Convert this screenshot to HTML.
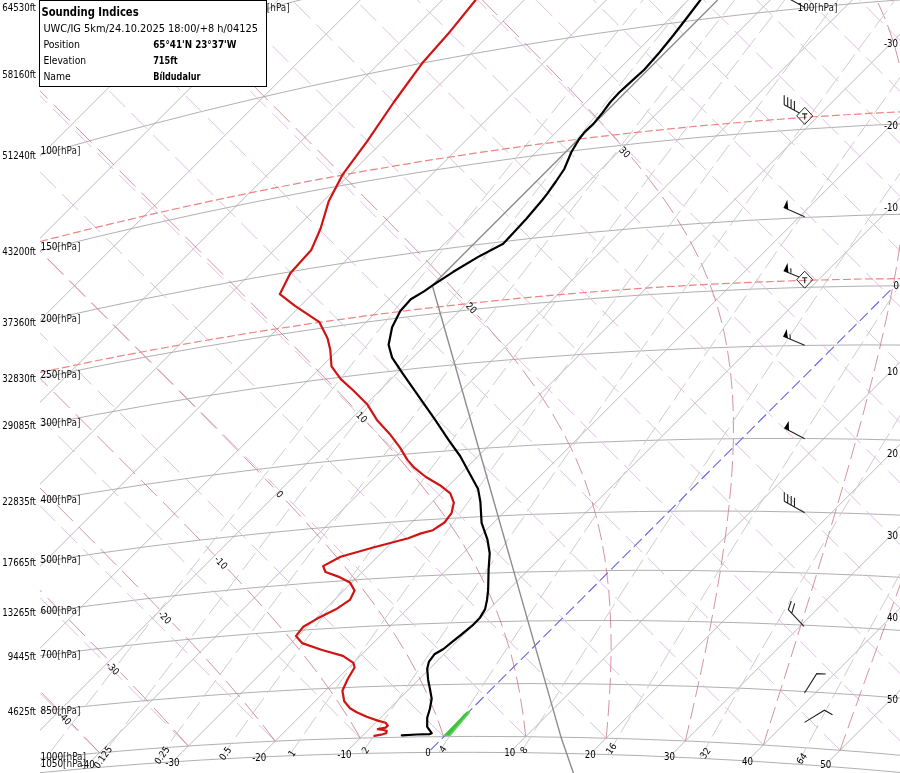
<!DOCTYPE html>
<html><head><meta charset="utf-8"><title>Sounding</title>
<style>html,body{margin:0;padding:0;background:#fff;}svg{display:block;}</style></head>
<body><svg width="900" height="773" viewBox="0 0 900 773"><defs><clipPath id="pa"><rect x="40" y="0" width="860" height="773"/></clipPath></defs>
<g clip-path="url(#pa)">
<path d="M38 -169.7L-126.7 -5M38 -87.7L-44.7 -5M38 -5.7L37.3 -5M38 76.3L119.3 -5M38 158.3L201.3 -5M38 240.3L283.3 -5M38 322.3L365.3 -5M38 404.3L447.3 -5M38 486.3L529.3 -5M38 568.3L611.3 -5M38 650.3L693.3 -5M38 732.3L775.3 -5M83.6 768.7L857.3 -5M172.4 761.9L905 29.3M259.3 757.0L905 111.3M344.4 753.9L905 193.3M509.8 752.5L905 357.3M590.3 754.0L905 439.3M669.5 756.8L905 521.3M747.4 760.9L905 603.3M824.2 766.1L905 685.3M899.9 772.4L905 767.3" stroke="#b4b4b4" stroke-width="0.9" fill="none"/>
<path d="M40 1.4L94.7 -17.3L149.5 -35.2L204.3 -52.3L258.1 -68.4L313.1 -84.0L368.1 -98.8L423.2 -112.9L477.3 -126.0L531.4 -138.3L586.7 -150.2L642.1 -161.2L697.5 -171.5L752.9 -181.1L808.4 -189.8L864.0 -197.9L919.7 -205.1M40 74.3L93.7 57.5L148.7 41.1L203.7 25.4L257.6 10.9L312.7 -3.2L366.8 -16.3L421.0 -28.7L476.3 -40.5L530.6 -51.4L586.0 -61.7L640.5 -71.1L696.1 -80.0L751.8 -88.1L807.5 -95.4L863.2 -102.0L919.1 -107.8M40 154.9L94.5 139.5L148.3 125.1L203.3 111.1L257.2 98.2L311.3 85.9L366.5 74.2L420.7 63.4L476.0 53.2L530.5 43.9L585.9 35.1L640.5 27.3L696.2 20.0L751.9 13.5L807.7 7.7L863.5 2.7L919.5 -1.6M40 250.9L94.2 237.4L148.8 224.6L202.5 212.8L257.2 201.5L311.1 191.1L366.1 181.2L420.1 172.2L475.2 163.9L529.5 156.3L584.8 149.4L640.2 143.2L695.7 137.7L751.3 133.0L807.0 129.0L862.8 125.6L919.5 123.0M40 321.7L94.3 309.5L148.3 298.1L202.4 287.5L256.6 277.5L310.9 268.3L365.3 259.8L419.9 252.0L474.5 245.0L529.2 238.6L585.0 232.9L639.9 228.0L695.8 223.7L751.0 220.2L807.1 217.4L863.4 215.2L919.7 213.8M40 378.1L94.2 367.0L148.0 356.6L201.9 347.0L255.9 338.1L310.1 329.8L364.3 322.3L418.7 315.5L474.1 309.3L528.7 303.9L584.3 299.2L639.1 295.2L694.9 291.9L750.8 289.2L806.9 287.3L863.0 286.1L919.3 285.6M40 425.2L93.7 415.0L147.6 405.4L201.5 396.6L255.6 388.4L309.8 381.0L364.1 374.3L418.5 368.2L473.9 362.8L528.6 358.2L584.2 354.2L639.1 351.0L695.0 348.4L751.0 346.5L807.1 345.4L863.3 344.9L919.6 345.1M40 501.4L93.3 492.5L147.6 484.1L201.1 476.5L255.6 469.6L309.3 463.4L364.1 457.9L419.0 453.0L474.0 448.9L529.1 445.4L584.3 442.7L639.7 440.6L695.2 439.2L750.8 438.5L806.5 438.5L862.4 439.2L919.3 440.6M40 562.0L93.3 554.0L147.4 546.6L201.7 539.9L256.0 534.0L309.6 528.8L364.2 524.2L419.0 520.2L473.8 517.0L528.9 514.5L584.0 512.7L639.3 511.5L694.7 511.0L750.2 511.2L806.8 512.1L862.6 513.7L919.4 515.9M40 612.4L93.8 605.2L147.0 598.7L200.4 592.9L254.8 587.6L308.5 583.2L363.2 579.3L418.0 576.1L473.0 573.7L528.1 571.9L583.3 570.8L638.7 570.3L694.2 570.6L749.9 571.5L806.5 573.1L862.4 575.3L919.3 578.3M40 655.8L94.1 649.1L147.5 643.3L201.1 638.1L254.8 633.6L308.7 629.7L363.6 626.5L417.7 624.0L472.9 622.1L527.4 621.0L582.8 620.5L638.4 620.6L694.1 621.5L750.0 623.0L806.0 625.2L862.2 628.0L919.3 631.6M40 711.2L93.5 705.5L147.0 700.4L200.6 696.0L255.2 692.2L309.1 689.2L363.1 686.8L417.3 685.1L472.5 684.0L527.1 683.6L582.6 683.8L638.2 684.8L694.0 686.4L750.0 688.6L806.1 691.6L862.3 695.2L919.5 699.5M40 758.4L93.2 753.4L146.8 748.9L200.6 745.2L254.5 742.1L308.6 739.7L362.8 738.0L417.2 736.9L472.6 736.4L527.3 736.7L583.0 737.6L638.0 739.1L694.0 741.3L750.1 744.2L806.4 747.8L862.9 752.0L919.5 756.9M40 772.7L93.5 767.8L146.9 763.6L200.4 760.1L255.0 757.2L308.9 755.0L362.9 753.4L417.1 752.5L472.3 752.3L526.8 752.7L582.3 753.8L638.0 755.5L693.8 758.0L749.7 761.0L805.9 764.8L862.2 769.1L919.4 774.2" stroke="#b0b0b0" stroke-width="1" fill="none"/>
<path d="M8.6 761.7L-7.4 745.7M99.5 752.8L83.5 736.8M77.5 730.8L61.5 714.8M55.5 708.8L39.5 692.8M33.5 686.8L17.5 670.8M11.5 664.8L-4.5 648.8M188.3 746.0L172.3 730.0M166.3 724.0L150.3 708.0M144.3 702.0L128.3 686.0M122.3 680.0L106.3 664.0M100.3 658.0L84.3 642.0M78.3 636.0L62.3 620.0M56.3 614.0L40.3 598.0M34.3 592.0L18.3 576.0M12.3 570.0L-3.7 554.0M275.2 741.1L259.2 725.1M253.2 719.1L237.2 703.1M231.2 697.1L215.2 681.1M209.2 675.1L193.2 659.1M187.2 653.1L171.2 637.1M165.2 631.1L149.2 615.1M143.2 609.1L127.2 593.1M121.2 587.1L105.2 571.1M99.2 565.1L83.2 549.1M77.2 543.1L61.2 527.1M55.2 521.1L39.2 505.1M33.2 499.1L17.2 483.1M11.2 477.1L-4.8 461.1M360.3 738.0L344.3 722.0M338.3 716.0L322.3 700.0M316.3 694.0L300.3 678.0M294.3 672.0L278.3 656.0M272.3 650.0L256.3 634.0M250.3 628.0L234.3 612.0M228.3 606.0L212.3 590.0M206.3 584.0L190.3 568.0M184.3 562.0L168.3 546.0M162.3 540.0L146.3 524.0M140.3 518.0L124.3 502.0M118.3 496.0L102.3 480.0M96.3 474.0L80.3 458.0M74.3 452.0L58.3 436.0M52.3 430.0L36.3 414.0M30.3 408.0L14.3 392.0M8.3 386.0L-7.7 370.0M443.7 736.6L427.7 720.6M421.7 714.6L405.7 698.6M399.7 692.6L383.7 676.6M377.7 670.6L361.7 654.6M355.7 648.6L339.7 632.6M333.7 626.6L317.7 610.6M311.7 604.6L295.7 588.6M289.7 582.6L273.7 566.6M267.7 560.6L251.7 544.6M245.7 538.6L229.7 522.6M223.7 516.6L207.7 500.6M201.7 494.6L185.7 478.6M179.7 472.6L163.7 456.6M157.7 450.6L141.7 434.6M135.7 428.6L119.7 412.6M113.7 406.6L97.7 390.6M91.7 384.6L75.7 368.6M69.7 362.6L53.7 346.6M47.7 340.6L31.7 324.6M25.7 318.6L9.7 302.6M3.7 296.6L-12.3 280.6M525.7 736.6L509.7 720.6M503.7 714.6L487.7 698.6M481.7 692.6L465.7 676.6M459.7 670.6L443.7 654.6M437.7 648.6L421.7 632.6M415.7 626.6L399.7 610.6M393.7 604.6L377.7 588.6M371.7 582.6L355.7 566.6M349.7 560.6L333.7 544.6M327.7 538.6L311.7 522.6M305.7 516.6L289.7 500.6M283.7 494.6L267.7 478.6M261.7 472.6L245.7 456.6M239.7 450.6L223.7 434.6M217.7 428.6L201.7 412.6M195.7 406.6L179.7 390.6M173.7 384.6L157.7 368.6M151.7 362.6L135.7 346.6M129.7 340.6L113.7 324.6M107.7 318.6L91.7 302.6M85.7 296.6L69.7 280.6M63.7 274.6L47.7 258.6M41.7 252.6L25.7 236.6M19.7 230.6L3.7 214.6M-2.3 208.6L-18.3 192.6M606.2 738.1L590.2 722.1M584.2 716.1L568.2 700.1M562.2 694.1L546.2 678.1M540.2 672.1L524.2 656.1M518.2 650.1L502.2 634.1M496.2 628.1L480.2 612.1M474.2 606.1L458.2 590.1M452.2 584.1L436.2 568.1M430.2 562.1L414.2 546.1M408.2 540.1L392.2 524.1M386.2 518.1L370.2 502.1M364.2 496.1L348.2 480.1M342.2 474.1L326.2 458.1M320.2 452.1L304.2 436.1M298.2 430.1L282.2 414.1M276.2 408.1L260.2 392.1M254.2 386.1L238.2 370.1M232.2 364.1L216.2 348.1M210.2 342.1L194.2 326.1M188.2 320.1L172.2 304.1M166.2 298.1L150.2 282.1M144.2 276.1L128.2 260.1M122.2 254.1L106.2 238.1M100.2 232.1L84.2 216.1M78.2 210.1L62.2 194.1M56.2 188.1L40.2 172.1M34.2 166.1L18.2 150.1M12.2 144.1L-3.8 128.1M685.3 741.0L669.3 725.0M663.3 719.0L647.3 703.0M641.3 697.0L625.3 681.0M619.3 675.0L603.3 659.0M597.3 653.0L581.3 637.0M575.3 631.0L559.3 615.0M553.3 609.0L537.3 593.0M531.3 587.0L515.3 571.0M509.3 565.0L493.3 549.0M487.3 543.0L471.3 527.0M465.3 521.0L449.3 505.0M443.3 499.0L427.3 483.0M421.3 477.0L405.3 461.0M399.3 455.0L383.3 439.0M377.3 433.0L361.3 417.0M355.3 411.0L339.3 395.0M333.3 389.0L317.3 373.0M311.3 367.0L295.3 351.0M289.3 345.0L273.3 329.0M267.3 323.0L251.3 307.0M245.3 301.0L229.3 285.0M223.3 279.0L207.3 263.0M201.3 257.0L185.3 241.0M179.3 235.0L163.3 219.0M157.3 213.0L141.3 197.0M135.3 191.0L119.3 175.0M113.3 169.0L97.3 153.0M91.3 147.0L75.3 131.0M69.3 125.0L53.3 109.0M47.3 103.0L31.3 87.0M25.3 81.0L9.3 65.0M3.3 59.0L-12.7 43.0M763.3 745.0L747.3 729.0M741.3 723.0L725.3 707.0M719.3 701.0L703.3 685.0M697.3 679.0L681.3 663.0M675.3 657.0L659.3 641.0M653.3 635.0L637.3 619.0M631.3 613.0L615.3 597.0M609.3 591.0L593.3 575.0M587.3 569.0L571.3 553.0M565.3 547.0L549.3 531.0M543.3 525.0L527.3 509.0M521.3 503.0L505.3 487.0M499.3 481.0L483.3 465.0M477.3 459.0L461.3 443.0M455.3 437.0L439.3 421.0M433.3 415.0L417.3 399.0M411.3 393.0L395.3 377.0M389.3 371.0L373.3 355.0M367.3 349.0L351.3 333.0M345.3 327.0L329.3 311.0M323.3 305.0L307.3 289.0M301.3 283.0L285.3 267.0M279.3 261.0L263.3 245.0M257.3 239.0L241.3 223.0M235.3 217.0L219.3 201.0M213.3 195.0L197.3 179.0M191.3 173.0L175.3 157.0M169.3 151.0L153.3 135.0M147.3 129.0L131.3 113.0M125.3 107.0L109.3 91.0M103.3 85.0L87.3 69.0M81.3 63.0L65.3 47.0M59.3 41.0L43.3 25.0M37.3 19.0L21.3 3.0M15.3 -3.0L-0.7 -19.0M840.1 750.2L824.1 734.2M818.1 728.2L802.1 712.2M796.1 706.2L780.1 690.2M774.1 684.2L758.1 668.2M752.1 662.2L736.1 646.2M730.1 640.2L714.1 624.2M708.1 618.2L692.1 602.2M686.1 596.2L670.1 580.2M664.1 574.2L648.1 558.2M642.1 552.2L626.1 536.2M620.1 530.2L604.1 514.2M598.1 508.2L582.1 492.2M576.1 486.2L560.1 470.2M554.1 464.2L538.1 448.2M532.1 442.2L516.1 426.2M510.1 420.2L494.1 404.2M488.1 398.2L472.1 382.2M466.1 376.2L450.1 360.2M444.1 354.2L428.1 338.2M422.1 332.2L406.1 316.2M400.1 310.2L384.1 294.2M378.1 288.2L362.1 272.2M356.1 266.2L340.1 250.2M334.1 244.2L318.1 228.2M312.1 222.2L296.1 206.2M290.1 200.2L274.1 184.2M268.1 178.2L252.1 162.2M246.1 156.2L230.1 140.2M224.1 134.2L208.1 118.2M202.1 112.2L186.1 96.2M180.1 90.2L164.1 74.2M158.1 68.2L142.1 52.2M136.1 46.2L120.1 30.2M114.1 24.2L98.1 8.2M92.1 2.2L76.1 -13.8M904.4 745.2L888.4 729.2M882.4 723.2L866.4 707.2M860.4 701.2L844.4 685.2M838.4 679.2L822.4 663.2M816.4 657.2L800.4 641.2M794.4 635.2L778.4 619.2M772.4 613.2L756.4 597.2M750.4 591.2L734.4 575.2M728.4 569.2L712.4 553.2M706.4 547.2L690.4 531.2M684.4 525.2L668.4 509.2M662.4 503.2L646.4 487.2M640.4 481.2L624.4 465.2M618.4 459.2L602.4 443.2M596.4 437.2L580.4 421.2M574.4 415.2L558.4 399.2M552.4 393.2L536.4 377.2M530.4 371.2L514.4 355.2M508.4 349.2L492.4 333.2M486.4 327.2L470.4 311.2M464.4 305.2L448.4 289.2M442.4 283.2L426.4 267.2M420.4 261.2L404.4 245.2M398.4 239.2L382.4 223.2M376.4 217.2L360.4 201.2M354.4 195.2L338.4 179.2M332.4 173.2L316.4 157.2M310.4 151.2L294.4 135.2M288.4 129.2L272.4 113.2M266.4 107.2L250.4 91.2M244.4 85.2L228.4 69.2M222.4 63.2L206.4 47.2M200.4 41.2L184.4 25.2M178.4 19.2L162.4 3.2M156.4 -2.8L140.4 -18.8M904.4 677.9L888.4 661.9M882.4 655.9L866.4 639.9M860.4 633.9L844.4 617.9M838.4 611.9L822.4 595.9M816.4 589.9L800.4 573.9M794.4 567.9L778.4 551.9M772.4 545.9L756.4 529.9M750.4 523.9L734.4 507.9M728.4 501.9L712.4 485.9M706.4 479.9L690.4 463.9M684.4 457.9L668.4 441.9M662.4 435.9L646.4 419.9M640.4 413.9L624.4 397.9M618.4 391.9L602.4 375.9M596.4 369.9L580.4 353.9M574.4 347.9L558.4 331.9M552.4 325.9L536.4 309.9M530.4 303.9L514.4 287.9M508.4 281.9L492.4 265.9M486.4 259.9L470.4 243.9M464.4 237.9L448.4 221.9M442.4 215.9L426.4 199.9M420.4 193.9L404.4 177.9M398.4 171.9L382.4 155.9M376.4 149.9L360.4 133.9M354.4 127.9L338.4 111.9M332.4 105.9L316.4 89.9M310.4 83.9L294.4 67.9M288.4 61.9L272.4 45.9M266.4 39.9L250.4 23.9M244.4 17.9L228.4 1.9M222.4 -4.1L206.4 -20.1M904.4 612.5L888.4 596.5M882.4 590.5L866.4 574.5M860.4 568.5L844.4 552.5M838.4 546.5L822.4 530.5M816.4 524.5L800.4 508.5M794.4 502.5L778.4 486.5M772.4 480.5L756.4 464.5M750.4 458.5L734.4 442.5M728.4 436.5L712.4 420.5M706.4 414.5L690.4 398.5M684.4 392.5L668.4 376.5M662.4 370.5L646.4 354.5M640.4 348.5L624.4 332.5M618.4 326.5L602.4 310.5M596.4 304.5L580.4 288.5M574.4 282.5L558.4 266.5M552.4 260.5L536.4 244.5M530.4 238.5L514.4 222.5M508.4 216.5L492.4 200.5M486.4 194.5L470.4 178.5M464.4 172.5L448.4 156.5M442.4 150.5L426.4 134.5M420.4 128.5L404.4 112.5M398.4 106.5L382.4 90.5M376.4 84.5L360.4 68.5M354.4 62.5L338.4 46.5M332.4 40.5L316.4 24.5M310.4 18.5L294.4 2.5M288.4 -3.5L272.4 -19.5M904.4 548.9L888.4 532.9M882.4 526.9L866.4 510.9M860.4 504.9L844.4 488.9M838.4 482.9L822.4 466.9M816.4 460.9L800.4 444.9M794.4 438.9L778.4 422.9M772.4 416.9L756.4 400.9M750.4 394.9L734.4 378.9M728.4 372.9L712.4 356.9M706.4 350.9L690.4 334.9M684.4 328.9L668.4 312.9M662.4 306.9L646.4 290.9M640.4 284.9L624.4 268.9M618.4 262.9L602.4 246.9M596.4 240.9L580.4 224.9M574.4 218.9L558.4 202.9M552.4 196.9L536.4 180.9M530.4 174.9L514.4 158.9M508.4 152.9L492.4 136.9M486.4 130.9L470.4 114.9M464.4 108.9L448.4 92.9M442.4 86.9L426.4 70.9M420.4 64.9L404.4 48.9M398.4 42.9L382.4 26.9M376.4 20.9L360.4 4.9M354.4 -1.1L338.4 -17.1M904.4 487.1L888.4 471.1M882.4 465.1L866.4 449.1M860.4 443.1L844.4 427.1M838.4 421.1L822.4 405.1M816.4 399.1L800.4 383.1M794.4 377.1L778.4 361.1M772.4 355.1L756.4 339.1M750.4 333.1L734.4 317.1M728.4 311.1L712.4 295.1M706.4 289.1L690.4 273.1M684.4 267.1L668.4 251.1M662.4 245.1L646.4 229.1M640.4 223.1L624.4 207.1M618.4 201.1L602.4 185.1M596.4 179.1L580.4 163.1M574.4 157.1L558.4 141.1M552.4 135.1L536.4 119.1M530.4 113.1L514.4 97.1M508.4 91.1L492.4 75.1M486.4 69.1L470.4 53.1M464.4 47.1L448.4 31.1M442.4 25.1L426.4 9.1M420.4 3.1L404.4 -12.9M904.4 426.9L888.4 410.9M882.4 404.9L866.4 388.9M860.4 382.9L844.4 366.9M838.4 360.9L822.4 344.9M816.4 338.9L800.4 322.9M794.4 316.9L778.4 300.9M772.4 294.9L756.4 278.9M750.4 272.9L734.4 256.9M728.4 250.9L712.4 234.9M706.4 228.9L690.4 212.9M684.4 206.9L668.4 190.9M662.4 184.9L646.4 168.9M640.4 162.9L624.4 146.9M618.4 140.9L602.4 124.9M596.4 118.9L580.4 102.9M574.4 96.9L558.4 80.9M552.4 74.9L536.4 58.9M530.4 52.9L514.4 36.9M508.4 30.9L492.4 14.9M486.4 8.9L470.4 -7.1M904.4 368.2L888.4 352.2M882.4 346.2L866.4 330.2M860.4 324.2L844.4 308.2M838.4 302.2L822.4 286.2M816.4 280.2L800.4 264.2M794.4 258.2L778.4 242.2M772.4 236.2L756.4 220.2M750.4 214.2L734.4 198.2M728.4 192.2L712.4 176.2M706.4 170.2L690.4 154.2M684.4 148.2L668.4 132.2M662.4 126.2L646.4 110.2M640.4 104.2L624.4 88.2M618.4 82.2L602.4 66.2M596.4 60.2L580.4 44.2M574.4 38.2L558.4 22.2M552.4 16.2L536.4 0.2M904.4 311.0L888.4 295.0M882.4 289.0L866.4 273.0M860.4 267.0L844.4 251.0M838.4 245.0L822.4 229.0M816.4 223.0L800.4 207.0M794.4 201.0L778.4 185.0M772.4 179.0L756.4 163.0M750.4 157.0L734.4 141.0M728.4 135.0L712.4 119.0M706.4 113.0L690.4 97.0M684.4 91.0L668.4 75.0M662.4 69.0L646.4 53.0M640.4 47.0L624.4 31.0M618.4 25.0L602.4 9.0M596.4 3.0L580.4 -13.0M904.4 255.3L888.4 239.3M882.4 233.3L866.4 217.3M860.4 211.3L844.4 195.3M838.4 189.3L822.4 173.3M816.4 167.3L800.4 151.3M794.4 145.3L778.4 129.3M772.4 123.3L756.4 107.3M750.4 101.3L734.4 85.3M728.4 79.3L712.4 63.3M706.4 57.3L690.4 41.3M684.4 35.3L668.4 19.3M662.4 13.3L646.4 -2.7M904.4 200.8L888.4 184.8M882.4 178.8L866.4 162.8M860.4 156.8L844.4 140.8M838.4 134.8L822.4 118.8M816.4 112.8L800.4 96.8M794.4 90.8L778.4 74.8M772.4 68.8L756.4 52.8M750.4 46.8L734.4 30.8M728.4 24.8L712.4 8.8M706.4 2.8L690.4 -13.2M904.4 147.7L888.4 131.7M882.4 125.7L866.4 109.7M860.4 103.7L844.4 87.7M838.4 81.7L822.4 65.7M816.4 59.7L800.4 43.7M794.4 37.7L778.4 21.7M772.4 15.7L756.4 -0.3M904.4 95.7L888.4 79.7M882.4 73.7L866.4 57.7M860.4 51.7L844.4 35.7M838.4 29.7L822.4 13.7M816.4 7.7L800.4 -8.3M904.4 44.9L888.4 28.9M882.4 22.9L866.4 6.9M860.4 0.9L844.4 -15.1M904.4 -4.8L888.4 -20.8" stroke="#e0c0e4" stroke-width="1" fill="none"/>
<path d="M99.5 752.8L84.3 736.8M78.6 730.8L71.8 723.7M57.3 708.8L41.7 692.8M35.8 686.8L20.0 670.8M14.1 664.8L-1.7 648.8M188.3 746.0L174.1 730.0M168.7 724.0L154.0 708.0M148.5 702.0L133.4 686.0M127.7 680.0L120.4 672.4M106.5 658.0L90.9 642.0M85.0 636.0L69.3 620.0M63.4 614.0L47.6 598.0M41.7 592.0L25.8 576.0M19.8 570.0L3.9 554.0M-2.1 548.0L-18.0 532.0M275.2 741.1L262.9 725.1M258.1 719.1L245.0 703.1M239.9 697.1L226.1 681.1M220.8 675.1L206.4 659.1M200.9 653.1L186.0 637.1M180.3 631.1L172.3 622.7M159.3 609.1L143.8 593.1M137.9 587.1L122.3 571.1M116.4 565.1L100.6 549.1M94.7 543.1L78.8 527.1M72.9 521.1L57.0 505.1M51.0 499.1L35.1 483.1M29.1 477.1L13.1 461.1M7.2 455.1L-8.8 439.1M360.3 738.0L350.9 722.0M347.2 716.0L336.8 700.0M332.7 694.0L321.2 678.0M316.8 672.0L304.4 656.0M299.6 650.0L286.3 634.0M281.2 628.0L267.2 612.0M261.9 606.0L247.3 590.0M241.8 584.0L227.6 568.9M214.7 555.3L205.8 546.0M200.0 540.0L184.4 524.0M178.6 518.0L162.9 502.0M156.9 496.0L141.1 480.0M135.2 474.0L119.3 458.0M113.3 452.0L97.4 436.0M91.5 430.0L75.5 414.0M69.6 408.0L53.6 392.0M47.6 386.0L31.7 370.0M25.7 364.0L9.8 348.0M3.8 342.0L-12.2 326.0M443.7 736.6L438.1 720.6M435.8 714.6L429.2 698.6M426.5 692.6L418.9 676.6M415.8 670.6L407.0 654.6M403.5 648.6L393.6 632.6M389.7 626.6L378.7 610.6M374.4 604.6L362.4 588.6M357.7 582.6L344.7 566.6M339.7 560.6L326.0 544.6M320.7 538.6L306.3 522.6M300.8 516.6L286.0 500.6M273.7 487.6L265.0 478.6M259.3 472.6L243.8 456.6M237.9 450.6L222.2 434.6M216.3 428.6L200.5 412.6M194.6 406.6L178.7 390.6M172.8 384.6L156.8 368.6M150.9 362.6L134.9 346.6M129.0 340.6L113.0 324.6M107.1 318.6L91.1 302.6M85.1 296.6L69.2 280.6M63.2 274.6L47.3 258.6M41.3 252.6L25.3 236.6M19.4 230.6L3.4 214.6M-2.6 208.6L-18.5 192.6M525.7 736.6L523.9 720.6M523.1 714.6L520.6 698.6M519.6 692.6L516.4 676.6M515.1 670.6L511.1 654.6M509.4 648.6L504.5 632.6M502.4 626.6L496.5 610.6M494.1 604.6L487.0 588.6M484.2 582.6L476.0 566.6M472.7 560.6L463.4 544.6M459.7 538.6L449.1 522.6M445.0 516.6L433.3 500.6M428.8 494.6L416.1 478.6M411.2 472.6L397.7 456.6M392.5 450.6L378.2 434.6M372.8 428.6L367.9 423.3M352.4 406.6L337.2 390.6M331.4 384.6L315.9 368.6M310.1 362.6L294.4 346.6M288.5 340.6L272.7 324.6M266.8 318.6L250.9 302.6M245.0 296.6L229.1 280.6M223.1 274.6L207.2 258.6M201.2 252.6L185.3 236.6M179.3 230.6L163.3 214.6M157.3 208.6L141.4 192.6M135.4 186.6L119.5 170.6M113.5 164.6L97.6 148.6M91.6 142.6L75.6 126.6M69.7 120.6L53.7 104.6M47.7 98.6L31.8 82.6M25.8 76.6L9.9 60.6M3.9 54.6L-12.0 38.6M606.2 738.1L607.6 722.1M608.1 716.1L609.2 700.1M609.6 694.1L610.4 678.1M610.6 672.1L611.0 656.1M611.1 650.1L611.0 634.1M610.8 628.1L610.2 612.1M609.9 606.1L608.7 590.1M608.1 584.1L606.2 568.1M605.4 562.1L602.7 546.1M601.6 540.1L598.1 524.1M596.6 518.1L592.1 502.1M590.2 496.1L584.7 480.1M582.4 474.1L575.7 458.1M573.0 452.1L565.0 436.1M561.8 430.1L552.7 414.1M549.0 408.1L538.5 392.1M534.4 386.1L522.7 370.1M518.2 364.1L505.5 348.1M500.5 342.1L486.9 326.1M481.7 320.1L476.9 314.8M461.8 298.1L447.0 282.1M441.3 276.1L426.0 260.1M420.2 254.1L404.7 238.1M398.8 232.1L383.1 216.1M377.2 210.1L361.3 194.1M355.4 188.1L339.5 172.1M333.5 166.1L317.6 150.1M311.6 144.1L295.7 128.1M289.7 122.1L273.8 106.1M267.8 100.1L251.9 84.1M245.9 78.1L229.9 62.1M224.0 56.1L208.0 40.1M202.0 34.1L186.1 18.1M180.1 12.1L164.2 -3.9M685.3 741.0L689.1 725.0M690.5 719.0L694.1 703.0M695.5 697.0L699.0 681.0M700.3 675.0L703.7 659.0M705.0 653.0L708.3 637.0M709.5 631.0L712.5 615.0M713.7 609.0L716.6 593.0M717.6 587.0L720.3 571.0M721.2 565.0L723.6 549.0M724.5 543.0L726.6 527.0M727.3 521.0L729.1 505.0M729.7 499.0L731.2 483.0M731.6 477.0L732.6 461.0M732.9 455.0L733.4 439.0M733.4 433.0L733.4 417.0M733.2 411.0L732.5 395.0M732.1 389.0L730.6 373.0M729.9 367.0L727.6 351.0M726.6 345.0L723.4 329.0M721.9 323.0L717.6 307.0M715.8 301.0L710.2 285.0M707.9 279.0L701.1 263.0M698.3 257.0L690.1 241.0M686.8 235.0L677.2 219.0M673.4 213.0L662.5 197.0M658.1 191.0L645.9 175.0M641.2 169.0L631.6 157.4M620.4 144.2L608.7 131.0M603.3 125.0L588.5 109.0M582.9 103.0L567.7 87.0M561.9 81.0L546.4 65.0M540.6 59.0L524.8 43.0M518.9 37.0L503.1 21.0M497.2 15.0L481.3 -1.0M763.3 745.0L768.3 729.0M770.2 723.0L775.3 707.0M777.1 701.0L782.2 685.0M784.1 679.0L789.1 663.0M791.0 657.0L796.0 641.0M797.8 635.0L802.8 619.0M804.7 613.0L809.6 597.0M811.5 591.0L816.4 575.0M818.2 569.0L823.1 553.0M824.9 547.0L829.7 531.0M831.5 525.0L836.3 509.0M838.0 503.0L842.7 487.0M844.4 481.0L849.0 465.0M850.7 459.0L855.2 443.0M856.8 437.0L861.2 421.0M862.8 415.0L867.0 399.0M868.6 393.0L872.7 377.0M874.2 371.0L878.1 355.0M879.5 349.0L883.2 333.0M884.5 327.0L888.0 311.0M889.2 305.0L892.4 289.0M893.6 283.0L896.5 267.0M897.5 261.0L900.0 245.0M900.9 239.0L903.1 223.0M903.8 217.0L905.5 201.0M906.3 107.0L904.4 91.0M903.5 85.0L900.5 69.0M899.1 63.0L894.9 47.0M893.1 41.0L887.5 25.0M885.2 19.0L878.1 3.0M875.2 -3.0L866.6 -19.0M840.1 750.2L845.7 734.2M847.9 728.2L853.6 712.2M855.8 706.2L861.5 690.2M863.7 684.2L869.5 668.2M871.7 662.2L877.6 646.2M879.8 640.2L885.6 624.2M887.8 618.2L893.8 602.2M896.0 596.2L901.9 580.2M904.1 574.2L910.1 558.2" stroke="#c87886" stroke-width="0.8" fill="none"/>
<path d="M34.0 773.3L47.0 756.3M50.8 751.3L63.9 734.3M67.7 729.3L80.8 712.3M84.6 707.3L97.7 690.3M101.5 685.3L114.6 668.3M118.5 663.3L131.6 646.3M135.5 641.3L148.6 624.3M152.5 619.3L165.6 602.3M169.5 597.3L182.7 580.3M186.6 575.3L199.8 558.3M203.7 553.3L216.9 536.3M220.8 531.3L234.1 514.3M238.0 509.3L251.3 492.3M255.2 487.3L268.5 470.3M272.4 465.3L285.7 448.3M289.7 443.3L303.0 426.3M306.9 421.3L320.3 404.3M324.2 399.3L337.6 382.3M341.6 377.3L355.0 360.3M358.9 355.3L372.4 338.3M376.3 333.3L389.8 316.3M393.7 311.3L407.2 294.3M411.2 289.3L424.7 272.3M428.7 267.3L442.2 250.3M446.1 245.3L459.7 228.3M463.7 223.3L477.2 206.3M481.2 201.3L494.8 184.3M498.8 179.3L512.4 162.3M516.4 157.3L530.0 140.3M534.0 135.3L547.6 118.3M551.6 113.3L565.3 96.3M569.3 91.3L583.0 74.3M587.0 69.3L600.7 52.3M604.7 47.3L618.4 30.3M622.5 25.3L636.2 8.3M640.3 3.3L654.0 -13.7M92.9 767.9L105.7 750.9M109.4 745.9L122.2 728.9M126.0 723.9L138.8 706.9M142.5 701.9L155.3 684.9M159.1 679.9L172.0 662.9M175.8 657.9L188.6 640.9M192.4 635.9L205.3 618.9M209.1 613.9L222.1 596.9M225.9 591.9L238.8 574.9M242.6 569.9L255.6 552.9M259.4 547.9L272.4 530.9M276.3 525.9L289.3 508.9M293.1 503.9L306.2 486.9M310.0 481.9L323.1 464.9M326.9 459.9L340.0 442.9M343.9 437.9L357.0 420.9M360.9 415.9L374.0 398.9M377.9 393.9L391.1 376.9M394.9 371.9L408.1 354.9M412.0 349.9L425.2 332.9M429.1 327.9L442.4 310.9M446.2 305.9L459.5 288.9M463.4 283.9L476.7 266.9M480.6 261.9L493.9 244.9M497.8 239.9L511.2 222.9M515.1 217.9L528.4 200.9M532.4 195.9L545.7 178.9M549.7 173.9L563.0 156.9M567.0 151.9L580.4 134.9M584.3 129.9L597.8 112.9M601.7 107.9L615.2 90.9M619.2 85.9L632.6 68.9M636.6 63.9L650.1 46.9M654.1 41.9L667.6 24.9M671.6 19.9L685.1 2.9M689.1 -2.1L702.6 -19.1M154.9 763.1L167.3 746.1M171.0 741.1L183.5 724.1M187.2 719.1L199.7 702.1M203.4 697.1L215.9 680.1M219.6 675.1L232.2 658.1M235.9 653.1L248.5 636.1M252.2 631.1L264.9 614.1M268.6 609.1L281.3 592.1M285.0 587.1L297.7 570.1M301.4 565.1L314.1 548.1M317.9 543.1L330.6 526.1M334.4 521.1L347.1 504.1M350.9 499.1L363.7 482.1M367.5 477.1L380.3 460.1M384.1 455.1L396.9 438.1M400.7 433.1L413.6 416.1M417.4 411.1L430.3 394.1M434.1 389.1L447.0 372.1M450.8 367.1L463.8 350.1M467.6 345.1L480.5 328.1M484.4 323.1L497.4 306.1M501.2 301.1L514.2 284.1M518.1 279.1L531.1 262.1M534.9 257.1L548.0 240.1M551.9 235.1L565.0 218.1M568.8 213.1L581.9 196.1M585.8 191.1L599.0 174.1M602.8 169.1L616.0 152.1M619.9 147.1L633.1 130.1M636.9 125.1L650.2 108.1M654.0 103.1L667.3 86.1M671.2 81.1L684.4 64.1M688.3 59.1L701.6 42.1M705.5 37.1L718.8 20.1M722.8 15.1L736.1 -1.9M220.1 759.0L232.3 742.0M235.9 737.0L248.0 720.0M251.6 715.0L263.9 698.0M267.5 693.0L279.7 676.0M283.3 671.0L295.6 654.0M299.2 649.0L311.5 632.0M315.2 627.0L327.5 610.0M331.1 605.0L343.5 588.0M347.1 583.0L359.6 566.0M363.2 561.0L375.6 544.0M379.3 539.0L391.8 522.0M395.4 517.0L407.9 500.0M411.6 495.0L424.1 478.0M427.8 473.0L440.4 456.0M444.1 451.0L456.6 434.0M460.3 429.0L472.9 412.0M476.7 407.0L489.3 390.0M493.0 385.0L505.7 368.0M509.4 363.0L522.1 346.0M525.8 341.0L538.5 324.0M542.3 319.0L555.0 302.0M558.8 297.0L571.5 280.0M575.3 275.0L588.1 258.0M591.9 253.0L604.7 236.0M608.5 231.0L621.3 214.0M625.1 209.0L638.0 192.0M641.8 187.0L654.7 170.0M658.5 165.0L671.4 148.0M675.2 143.0L688.1 126.0M692.0 121.0L704.9 104.0M708.8 99.0L721.8 82.0M725.6 77.0L738.6 60.0M742.4 55.0L755.5 38.0M759.3 33.0L772.4 16.0M776.2 11.0L789.3 -6.0M289.0 755.7L300.8 738.7M304.3 733.7L316.1 716.7M319.6 711.7L331.5 694.7M335.0 689.7L346.9 672.7M350.5 667.7L362.4 650.7M365.9 645.7L377.9 628.7M381.5 623.7L393.5 606.7M397.0 601.7L409.1 584.7M412.6 579.7L424.7 562.7M428.3 557.7L440.4 540.7M444.0 535.7L456.1 518.7M459.7 513.7L471.9 496.7M475.5 491.7L487.7 474.7M491.3 469.7L503.5 452.7M507.1 447.7L519.4 430.7M523.0 425.7L535.3 408.7M539.0 403.7L551.3 386.7M554.9 381.7L567.3 364.7M571.0 359.7L583.4 342.7M587.0 337.7L599.4 320.7M603.1 315.7L615.6 298.7M619.2 293.7L631.7 276.7M635.4 271.7L647.9 254.7M651.6 249.7L664.1 232.7M667.8 227.7L680.4 210.7M684.1 205.7L696.7 188.7M700.4 183.7L713.1 166.7M716.8 161.7L729.4 144.7M733.2 139.7L745.9 122.7M749.6 117.7L762.3 100.7M766.0 95.7L778.8 78.7M782.5 73.7L795.3 56.7M799.1 51.7L811.9 34.7M815.6 29.7L828.4 12.7M832.2 7.7L845.1 -9.3M361.8 753.5L373.3 736.5M376.6 731.5L388.1 714.5M391.5 709.5L403.0 692.5M406.4 687.5L418.0 670.5M421.4 665.5L433.0 648.5M436.4 643.5L448.0 626.5M451.5 621.5L463.1 604.5M466.6 599.5L478.3 582.5M481.7 577.5L493.5 560.5M496.9 555.5L508.7 538.5M512.2 533.5L524.0 516.5M527.5 511.5L539.3 494.5M542.8 489.5L554.7 472.5M558.2 467.5L570.1 450.5M573.6 445.5L585.5 428.5M589.1 423.5L601.1 406.5M604.6 401.5L616.6 384.5M620.1 379.5L632.2 362.5M635.7 357.5L647.8 340.5M651.4 335.5L663.5 318.5M667.1 313.5L679.2 296.5M682.8 291.5L695.0 274.5M698.6 269.5L710.8 252.5M714.4 247.5L726.6 230.5M730.2 225.5L742.5 208.5M746.1 203.5L758.4 186.5M762.0 181.5L774.4 164.5M778.0 159.5L790.4 142.5M794.0 137.5L806.4 120.5M810.1 115.5L822.5 98.5M826.2 93.5L838.6 76.5M842.3 71.5L854.8 54.5M858.4 49.5L871.0 32.5M874.6 27.5L887.2 10.5M890.9 5.5L903.4 -11.5M439.0 752.4L450.0 735.4M453.3 730.4L464.3 713.4M467.6 708.4L478.7 691.4M482.0 686.4L493.2 669.4M496.4 664.4L507.6 647.4M510.9 642.4L522.2 625.4M525.5 620.4L536.8 603.4M540.1 598.4L551.4 581.4M554.7 576.4L566.1 559.4M569.4 554.4L580.8 537.4M584.2 532.4L595.6 515.4M599.0 510.4L610.5 493.4M613.9 488.4L625.4 471.4M628.8 466.4L640.3 449.4M643.7 444.4L655.3 427.4M658.7 422.4L670.4 405.4M673.8 400.4L685.4 383.4M688.9 378.4L700.6 361.4M704.0 356.4L715.8 339.4M719.2 334.4L731.0 317.4M734.5 312.4L746.3 295.4M749.7 290.4L761.6 273.4M765.1 268.4L776.9 251.4M780.4 246.4L792.4 229.4M795.9 224.4L807.8 207.4M811.3 202.4L823.3 185.4M826.8 180.4L838.8 163.4M842.4 158.4L854.4 141.4M858.0 136.4L870.1 119.4M873.6 114.4L885.7 97.4M889.3 92.4L901.4 75.4M520.9 752.6L531.4 735.6M534.5 730.6L545.2 713.6M548.3 708.6L559.0 691.6M562.1 686.6L572.8 669.6M576.0 664.6L586.7 647.6M589.9 642.6L600.7 625.6M603.9 620.6L614.8 603.6M618.0 598.6L628.8 581.6M632.1 576.6L643.0 559.6M646.2 554.6L657.2 537.6M660.4 532.6L671.5 515.6M674.7 510.6L685.8 493.6M689.0 488.6L700.1 471.6M703.4 466.6L714.6 449.6M717.8 444.6L729.0 427.6M732.3 422.6L743.6 405.6M746.9 400.6L758.1 383.6M761.5 378.6L772.8 361.6M776.1 356.6L787.5 339.6M790.8 334.6L802.2 317.6M805.5 312.6L817.0 295.6M820.3 290.6L831.8 273.6M835.2 268.6L846.7 251.6M850.1 246.6L861.6 229.6M865.0 224.6L876.6 207.6M880.0 202.6L891.6 185.6M895.0 180.6L906.7 163.6M607.8 754.5L617.9 737.5M620.8 732.5L631.0 715.5M634.0 710.5L644.1 693.5M647.1 688.5L657.4 671.5M660.4 666.5L670.6 649.5M673.7 644.5L684.0 627.5M687.0 622.5L697.4 605.5M700.5 600.5L710.9 583.5M714.0 578.5L724.4 561.5M727.5 556.5L738.0 539.5M741.1 534.5L751.7 517.5M754.8 512.5L765.4 495.5M768.6 490.5L779.2 473.5M782.4 468.5L793.1 451.5M796.2 446.5L807.0 429.5M810.1 424.5L820.9 407.5M824.1 402.5L834.9 385.5M838.1 380.5L849.0 363.5M852.2 358.5L863.1 341.5M866.4 336.5L877.3 319.5M880.6 314.5L891.6 297.5M894.8 292.5L905.9 275.5M700.1 758.3L709.6 741.3M712.4 736.3L722.0 719.3M724.8 714.3L734.4 697.3M737.3 692.3L747.0 675.3M749.8 670.3L759.5 653.3M762.4 648.3L772.2 631.3M775.1 626.3L785.0 609.3M787.9 604.3L797.8 587.3M800.7 582.3L810.6 565.3M813.6 560.3L823.6 543.3M826.5 538.3L836.6 521.3M839.5 516.3L849.7 499.3M852.6 494.3L862.8 477.3M865.8 472.3L876.0 455.3M879.0 450.3L889.3 433.3M892.3 428.3L902.6 411.3M797.6 764.2L806.5 747.2M809.1 742.2L818.1 725.2M820.7 720.2L829.7 703.2M832.4 698.2L841.5 681.2M844.2 676.2L853.3 659.2M856.0 654.2L865.3 637.2M868.0 632.2L877.2 615.2M880.0 610.2L889.3 593.2M892.1 588.2L901.5 571.2M904.2 566.2L913.7 549.2" stroke="#cdcdcd" stroke-width="1" fill="none"/>
<path d="M40 241.5L47.7 239.6M51 238.7L58.7 236.8M62 236.0L69.7 234.0M73 233.2L80.7 231.3M84 230.4L91.7 228.5M95 227.7L102.7 225.9M106 225.1L113.7 223.2M117 222.5L124.7 220.6M128 219.8L135.7 218.0M139 217.2L146.7 215.4M150 214.6L157.7 212.9M161 212.2L168.7 210.5M172 209.7L179.7 208.0M183 207.2L190.7 205.5M194 204.8L201.7 203.1M205 202.4L212.7 200.7M216 200.1L223.7 198.4M227 197.7L234.7 196.1M238 195.4L245.7 193.8M249 193.1L256.7 191.5M260 190.9L267.7 189.3M271 188.7L278.7 187.2M282 186.5L289.7 185.0M293 184.4L300.7 182.9M304 182.2L311.7 180.7M315 180.1L322.7 178.7M326 178.1L333.7 176.7M337 176.1L344.7 174.7M348 174.1L355.7 172.7M359 172.1L366.7 170.7M370 170.1L377.7 168.8M381 168.3L388.7 167.0M392 166.4L399.7 165.1M403 164.6L410.7 163.3M414 162.7L421.7 161.4M425 160.9L432.7 159.7M436 159.2L443.7 158.0M447 157.5L454.7 156.3M458 155.8L465.7 154.6M469 154.1L476.7 152.9M480 152.4L487.7 151.3M491 150.9L498.7 149.8M502 149.3L509.7 148.2M513 147.8L520.7 146.7M524 146.2L531.7 145.1M535 144.7L542.7 143.7M546 143.3L553.7 142.3M557 141.9L564.7 140.9M568 140.5L575.7 139.5M579 139.1L586.7 138.1M590 137.7L597.7 136.8M601 136.4L608.7 135.6M612 135.2L619.7 134.3M623 133.9L630.7 133.0M634 132.7L641.7 131.8M645 131.5L652.7 130.7M656 130.3L663.7 129.6M667 129.2L674.7 128.4M678 128.1L685.7 127.3M689 127.0L696.7 126.2M700 125.9L707.7 125.2M711 125.0L718.7 124.3M722 124.0L729.7 123.3M733 123.0L740.7 122.3M744 122.0L751.7 121.4M755 121.1L762.7 120.5M766 120.3L773.7 119.7M777 119.5L784.7 118.9M788 118.6L795.7 118.1M799 117.8L806.7 117.2M810 117.0L817.7 116.5M821 116.3L828.7 115.9M832 115.6L839.7 115.2M843 115.0L850.7 114.5M854 114.3L861.7 113.8M865 113.6L872.7 113.2M876 113.1L883.7 112.7M887 112.5L894.7 112.2M898 112.0L905.7 111.6M40 372.4L47.7 370.8M51 370.1L58.7 368.5M62 367.9L69.7 366.3M73 365.6L80.7 364.0M84 363.3L91.7 361.7M95 361.0L102.7 359.5M106 358.9L113.7 357.4M117 356.7L124.7 355.2M128 354.6L135.7 353.1M139 352.5L146.7 351.0M150 350.4L157.7 349.0M161 348.4L168.7 347.0M172 346.4L179.7 345.0M183 344.4L190.7 343.0M194 342.4L201.7 341.0M205 340.5L212.7 339.2M216 338.6L223.7 337.4M227 336.8L234.7 335.5M238 335.0L245.7 333.7M249 333.1L256.7 331.9M260 331.3L267.7 330.2M271 329.7L278.7 328.5M282 328.0L289.7 326.8M293 326.3L300.7 325.1M304 324.6L311.7 323.4M315 323.0L322.7 321.9M326 321.4L333.7 320.3M337 319.9L344.7 318.8M348 318.3L355.7 317.3M359 316.8L366.7 315.7M370 315.3L377.7 314.3M381 313.9L388.7 313.0M392 312.5L399.7 311.6M403 311.1L410.7 310.2M414 309.7L421.7 308.8M425 308.4L432.7 307.6M436 307.2L443.7 306.3M447 305.9L454.7 305.1M458 304.7L465.7 303.8M469 303.4L476.7 302.6M480 302.3L487.7 301.5M491 301.1L498.7 300.4M502 300.0L509.7 299.3M513 298.9L520.7 298.2M524 297.8L531.7 297.1M535 296.8L542.7 296.1M546 295.9L553.7 295.2M557 294.9L564.7 294.2M568 293.9L575.7 293.3M579 293.0L586.7 292.3M590 292.1L597.7 291.5M601 291.3L608.7 290.7M612 290.5L619.7 289.9M623 289.6L630.7 289.1M634 288.8L641.7 288.3M645 288.1L652.7 287.6M656 287.4L663.7 286.9M667 286.7L674.7 286.3M678 286.1L685.7 285.6M689 285.4L696.7 284.9M700 284.8L707.7 284.4M711 284.2L718.7 283.9M722 283.7L729.7 283.3M733 283.2L740.7 282.8M744 282.6L751.7 282.3M755 282.1L762.7 281.9M766 281.8L773.7 281.5M777 281.4L784.7 281.1M788 281.0L795.7 280.7M799 280.6L806.7 280.3M810 280.2L817.7 280.0M821 280.0L828.7 279.8M832 279.7L839.7 279.5M843 279.5L850.7 279.3M854 279.2L861.7 279.0M865 279.0L872.7 278.9M876 278.9L883.7 278.8M887 278.8L894.7 278.7M898 278.6L905.7 278.6" stroke="#ec8484" stroke-width="1.2" fill="none"/>
<path d="M430.4 750.2L438.4 742.2M441.7 738.9L449.7 730.9M453 727.6L461 719.6M464.3 716.3L472.3 708.3M475.6 705L483.6 697M486.9 693.7L494.9 685.7M498.2 682.4L506.2 674.4M509.5 671.1L517.5 663.1M520.8 659.8L528.8 651.8M532.1 648.5L540.1 640.5M543.4 637.2L551.4 629.2M554.7 625.9L562.7 617.9M566 614.6L574 606.6M577.3 603.3L585.3 595.3M588.6 592L596.6 584M599.9 580.7L607.9 572.7M611.2 569.4L619.2 561.4M622.5 558.1L630.5 550.1M633.8 546.8L641.8 538.8M645.1 535.5L653.1 527.5M656.4 524.2L664.4 516.2M667.7 512.9L675.7 504.9M679 501.6L687 493.6M690.3 490.3L698.3 482.3M701.6 479L709.6 471M712.9 467.7L720.9 459.7M724.2 456.4L732.2 448.4M735.5 445.1L743.5 437.1M746.8 433.8L754.8 425.8M758.1 422.5L766.1 414.5M769.4 411.2L777.4 403.2M780.7 399.9L788.7 391.9M792 388.6L800 380.6M803.3 377.3L811.3 369.3M814.6 366L822.6 358M825.9 354.7L833.9 346.7M837.2 343.4L845.2 335.4M848.5 332.1L856.5 324.1M859.8 320.8L867.8 312.8M871.1 309.5L879.1 301.5M882.4 298.2L890.4 290.2M893.7 286.9L894 286.6" stroke="#6666de" stroke-width="1.1" fill="none"/>
</g>
<polyline points="717.7,0 432.3,285.4 561.3,738.1 573.4,773" stroke="#8c8c8c" stroke-width="1.4" fill="none"/>
<path d="M475.6,0L448.4,33.6L421.9,63.6L393.6,102.5L367.1,141.3L342.4,174.9L328.6,201.6L320.6,228.5L311.3,249.9L290.3,273.2L279.8,294.2L295,305.9L319.4,322.2L327.6,338.5L330.3,350L331.5,366.3L340.8,379.1L353.6,390.8L367.6,404.8L376.9,419.9L389.7,433.9L400.2,447.9L407.2,459.6L414.2,467.7L425.9,477L439.9,485.2L450.3,493.4L453.8,502.7L451.5,513.2L444.5,522.5L432.9,530.2L421,533.4L408.2,538.2L373.2,547.5L340.6,556.8L323.1,566.1L325.5,572L338.3,576.6L349.9,582.4L354.6,590.6L349.9,599.9L335.9,609.3L317.3,618.6L303.3,626.7L295.9,636.1L302.1,643.1L322,650L342.9,655.9L353.4,662.9L354.6,667.5L347.6,679.2L342.4,690.7L344.2,701.3L350,708.3L356.7,712.2L366.7,716.7L377.8,720.6L385.6,722.8L387.8,725.6L385.6,727.6L377.8,729.1L383.3,729.8L386.7,731.1L386.1,733.3L381.1,734.7L374.4,735.8" stroke="#d01414" stroke-width="2.2" fill="none" stroke-linejoin="round" stroke-linecap="round"/>
<path d="M700.4,0L687.5,17L673.6,35L659,53L644.2,69.8L631.6,81.1L619.2,92.5L610,102.5L602.4,112.9L593.4,123.9L584.3,132.3L579.2,139L571.4,152L564.3,169L555.9,181.5L547.3,193.6L542.3,200L526.4,218.8L503.2,243.8L477.8,257.1L453.3,271.8L432.6,285.3L424,291.4L410.8,299.3L400.3,311L392.1,327.3L388.6,344.8L392.1,357.6L402.6,373.3L418.9,396.6L435.2,419.9L449.2,440.9L460.1,456L469.9,474L478.1,489.1L480.4,502L481.6,522.9L487.4,539.3L489.7,553.2L488.6,569.6L488.1,590.5L487,600L485.1,609.1L479.7,618.1L472.5,625.4L461.6,634.4L452.5,641.7L443.5,649L434.4,654.3L429,661.6L427.2,668.8L428.1,679.7L429.9,688.8L431.7,698.7L429.9,708.7L427.2,717.8L427.2,726.8L431.7,733.2L429.9,734.1L416.7,734.5L401.8,735.3" stroke="#000" stroke-width="2.2" fill="none" stroke-linejoin="round" stroke-linecap="round"/>
<defs><filter id="gb" x="-20%" y="-20%" width="140%" height="140%"><feGaussianBlur stdDeviation="0.7"/></filter></defs>
<path d="M442.8 736L450.3 736.2L470.3 712.6L467.6 710.9Z" fill="#5fd35a" filter="url(#gb)"/>
<path d="M444.2 735.2L449 735.3L468.3 712.4L466.8 711.6Z" fill="#3cc23c"/>
<g font-family="DejaVu Sans Condensed, DejaVu Sans, sans-serif" font-size="9.6" fill="#000"><text x="87.8" y="768.1" text-anchor="middle">-40</text><text x="172.4" y="765.5" text-anchor="middle">-30</text><text x="259.3" y="760.6" text-anchor="middle">-20</text><text x="344.4" y="757.5" text-anchor="middle">-10</text><text x="427.9" y="756.0" text-anchor="middle">0</text><text x="509.8" y="756.1" text-anchor="middle">10</text><text x="590.3" y="757.6" text-anchor="middle">20</text><text x="669.5" y="760.4" text-anchor="middle">30</text><text x="747.4" y="764.5" text-anchor="middle">40</text><text x="825.8" y="768.1" text-anchor="middle">50</text><text x="898" y="46.5" text-anchor="end">-30</text><text x="898" y="128.5" text-anchor="end">-20</text><text x="898" y="210.5" text-anchor="end">-10</text><text x="899" y="289.2" text-anchor="end">0</text><text x="898" y="374.5" text-anchor="end">10</text><text x="898" y="456.5" text-anchor="end">20</text><text x="898" y="538.5" text-anchor="end">30</text><text x="898" y="620.5" text-anchor="end">40</text><text x="898" y="702.5" text-anchor="end">50</text><text transform="translate(102.5,757) rotate(-55)" x="0" y="3.6" text-anchor="middle">0.125</text><text transform="translate(161.7,755) rotate(-55)" x="0" y="3.6" text-anchor="middle">0.25</text><text transform="translate(225,753.3) rotate(-55)" x="0" y="3.6" text-anchor="middle">0.5</text><text transform="translate(291.7,753.3) rotate(-55)" x="0" y="3.6" text-anchor="middle">1</text><text transform="translate(365,750) rotate(-55)" x="0" y="3.6" text-anchor="middle">2</text><text transform="translate(442.7,749) rotate(-55)" x="0" y="3.6" text-anchor="middle">4</text><text transform="translate(523.5,750) rotate(-55)" x="0" y="3.6" text-anchor="middle">8</text><text transform="translate(611,748.5) rotate(-55)" x="0" y="3.6" text-anchor="middle">16</text><text transform="translate(705,753) rotate(-55)" x="0" y="3.6" text-anchor="middle">32</text><text transform="translate(801.5,758.5) rotate(-55)" x="0" y="3.6" text-anchor="middle">64</text><g transform="translate(625,152) rotate(46)"><text x="0" y="3.6" text-anchor="middle">30</text></g><g transform="translate(471.7,307.8) rotate(46)"><text x="0" y="3.6" text-anchor="middle">20</text></g><g transform="translate(362,417) rotate(46)"><text x="0" y="3.6" text-anchor="middle">10</text></g><g transform="translate(280,494) rotate(46)"><text x="0" y="3.6" text-anchor="middle">0</text></g><g transform="translate(221.2,562.4) rotate(46)"><text x="0" y="3.6" text-anchor="middle">-10</text></g><g transform="translate(165,617) rotate(46)"><text x="0" y="3.6" text-anchor="middle">-20</text></g><g transform="translate(113,668) rotate(46)"><text x="0" y="3.6" text-anchor="middle">-30</text></g><g transform="translate(65,718) rotate(46)"><text x="0" y="3.6" text-anchor="middle">-40</text></g><text x="36" y="10.9" text-anchor="end">64530ft</text><text x="36" y="78.2" text-anchor="end">58160ft</text><text x="36" y="158.8" text-anchor="end">51240ft</text><text x="36" y="254.8" text-anchor="end">43200ft</text><text x="36" y="325.6" text-anchor="end">37360ft</text><text x="36" y="382" text-anchor="end">32830ft</text><text x="36" y="429.1" text-anchor="end">29085ft</text><text x="36" y="505.3" text-anchor="end">22835ft</text><text x="36" y="565.9" text-anchor="end">17665ft</text><text x="36" y="616.3" text-anchor="end">13265ft</text><text x="36" y="659.7" text-anchor="end">9445ft</text><text x="36" y="715.1" text-anchor="end">4625ft</text><text x="40.5" y="153.7" font-size="9.9">100<tspan fill="#1a1a1a">[hPa]</tspan></text><text x="40.5" y="250.3" font-size="9.9">150<tspan fill="#1a1a1a">[hPa]</tspan></text><text x="40.5" y="321.6" font-size="9.9">200<tspan fill="#1a1a1a">[hPa]</tspan></text><text x="40.5" y="378.4" font-size="9.9">250<tspan fill="#1a1a1a">[hPa]</tspan></text><text x="40.5" y="425.8" font-size="9.9">300<tspan fill="#1a1a1a">[hPa]</tspan></text><text x="40.5" y="502.5" font-size="9.9">400<tspan fill="#1a1a1a">[hPa]</tspan></text><text x="40.5" y="563.4" font-size="9.9">500<tspan fill="#1a1a1a">[hPa]</tspan></text><text x="40.5" y="614.2" font-size="9.9">600<tspan fill="#1a1a1a">[hPa]</tspan></text><text x="40.5" y="657.7" font-size="9.9">700<tspan fill="#1a1a1a">[hPa]</tspan></text><text x="40.5" y="713.5" font-size="9.9">850<tspan fill="#1a1a1a">[hPa]</tspan></text><text x="40.5" y="759.6" font-size="9.9">1000<tspan fill="#1a1a1a">[hPa]</tspan></text><text x="40.5" y="767.4" font-size="9.9">1050<tspan fill="#1a1a1a">[hPa]</tspan></text><text x="255.5" y="10.7" font-size="9.9">70<tspan fill="#1a1a1a">[hPa]</tspan></text><text x="797.5" y="10.6" font-size="9.9">100<tspan fill="#1a1a1a">[hPa]</tspan></text></g>
<path d="M805 7.5L784 -4M799.4 113L784.2 104.7M784.2 104.7L784.2 95.3M787.7 106.4L787.7 97.2M791.1 108.1L791.1 99.2M794.4 110L794.4 101.1M804.7 216.7L783.7 207.5M799 277L783.7 270.7M791 272.8L790.8 268.3M804.7 345.3L783.3 336.3M790.3 339.3L790 334.3M804.7 438.7L784.3 428M804.7 512.7L784.3 501.3M784.3 501.3L784.3 492.3M787.7 503.2L787.7 494.3M791.2 505.1L791.2 496M794.5 507L794.5 497.7M804 626.3L788.3 609.7M788.3 609.7L791.3 601M791.7 613.3L794.7 603.3M804.5 693L816.7 673.6L825.7 674M804.5 722.4L824.4 710.2L832.5 714.8" stroke="#222" stroke-width="1.1" fill="none" stroke-linecap="butt"/><path d="M783.7 207.5L787.3 199.8L788.3 209.5Z" fill="#000"/><path d="M783.7 270.7L787.5 263L788.5 272.8Z" fill="#000"/><path d="M783.3 336.3L786.7 329L787.9 338.3Z" fill="#000"/><path d="M784.3 428L788.7 421L789 430.5Z" fill="#000"/><path d="M804.7 107.4L812.7 115.9L804.7 124.4L796.7 115.9Z" fill="none" stroke="#222" stroke-width="1"/><path d="M802.1 113.9L807.3000000000001 113.9M804.7 113.9L804.7 119.4" stroke="#222" stroke-width="1.1" fill="none"/><path d="M804.7 271.2L812.7 279.7L804.7 288.2L796.7 279.7Z" fill="none" stroke="#222" stroke-width="1"/><path d="M802.1 277.7L807.3000000000001 277.7M804.7 277.7L804.7 283.2" stroke="#222" stroke-width="1.1" fill="none"/>
<rect x="39.5" y="0.5" width="227" height="86" fill="#fff" stroke="#000" stroke-width="1"/>
<g font-family="DejaVu Sans Condensed, DejaVu Sans, sans-serif" fill="#000">
<text x="41.4" y="15.7" font-size="12" font-weight="bold" textLength="97.3" lengthAdjust="spacingAndGlyphs">Sounding Indices</text>
<g font-size="10.5">
<text x="43.4" y="31.7" textLength="214.6" lengthAdjust="spacingAndGlyphs">UWC/IG 5km/24.10.2025 18:00/+8 h/04125</text>
<text x="43.4" y="48" textLength="36.7" lengthAdjust="spacingAndGlyphs">Position</text>
<text x="43.4" y="64.1" textLength="42.7" lengthAdjust="spacingAndGlyphs">Elevation</text>
<text x="43.4" y="79.5" textLength="27.4" lengthAdjust="spacingAndGlyphs">Name</text>
<g font-weight="bold">
<text x="153.2" y="48" textLength="83.2" lengthAdjust="spacingAndGlyphs">65°41'N 23°37'W</text>
<text x="153.2" y="64.1" textLength="24.4" lengthAdjust="spacingAndGlyphs">715ft</text>
<text x="153.2" y="79.5" textLength="47.3" lengthAdjust="spacingAndGlyphs">Bíldudalur</text>
</g></g></g></svg></body></html>
